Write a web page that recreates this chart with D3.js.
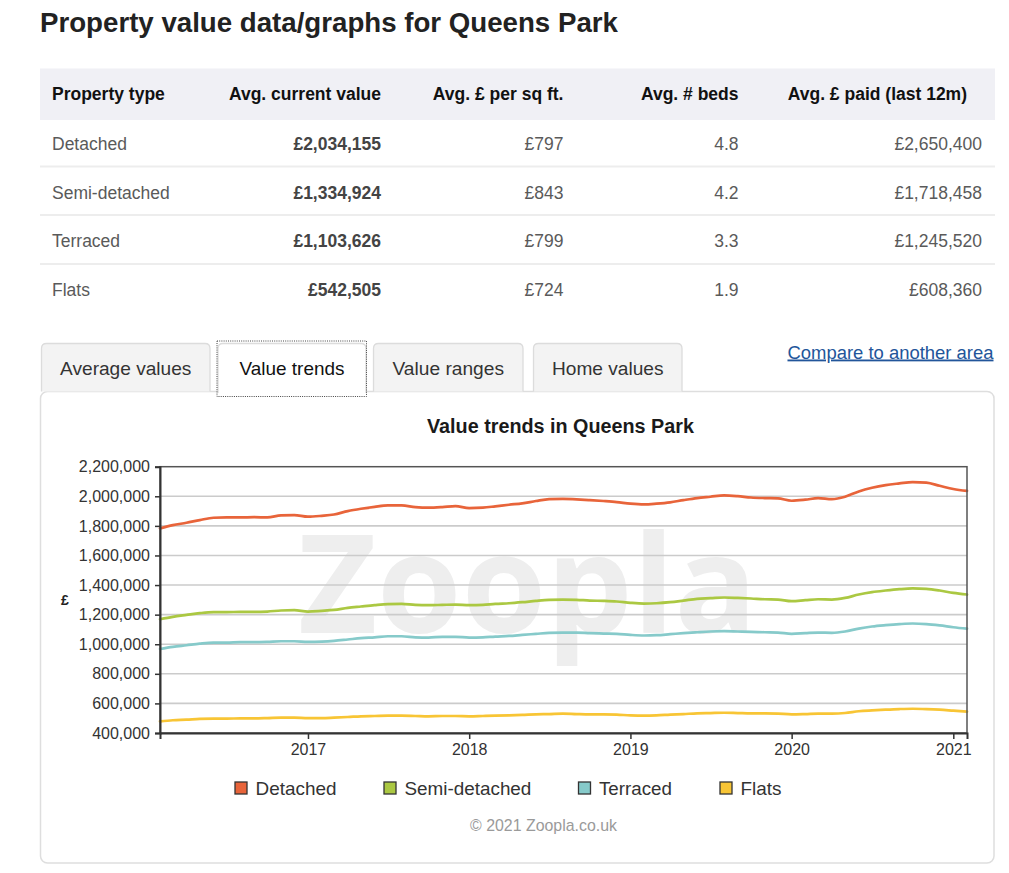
<!DOCTYPE html>
<html><head><meta charset="utf-8">
<script src="https://cdn.jsdelivr.net/npm/d3@7"></script>
<style>
html,body{margin:0;padding:0;background:#fff;}
svg{display:block;font-family:"Liberation Sans",Arial,Helvetica,sans-serif;}
</style></head><body>
<svg id="c" width="1009" height="873"></svg>
<script>
// ---------- DATA ----------
const pageTitle = "Property value data/graphs for Queens Park";
const chartTitle = "Value trends in Queens Park";
const tableHeaders = ["Property type","Avg. current value","Avg. £ per sq ft.","Avg. # beds","Avg. £ paid (last 12m)"];
const propertyTypes = ["Detached","Semi-detached","Terraced","Flats"];
const avgCurrentValue = ["£2,034,155","£1,334,924","£1,103,626","£542,505"];
const avgPerSqFt = ["£797","£843","£799","£724"];
const avgBeds = ["4.8","4.2","3.3","1.9"];
const avgPaid12m = ["£2,650,400","£1,718,458","£1,245,520","£608,360"];
const tabLabels = ["Average values","Value trends","Value ranges","Home values"];
const linkLabel = "Compare to another area";
const seriesNames = ["Detached","Semi-detached","Terraced","Flats"];
const seriesColors = ["#e8643a","#abc842","#86caca","#f8c535"];
// monthly values, Feb 2016 .. Feb 2021 (thousands of £)
const detached = [1783,1805,1821,1839,1855,1857,1857,1859,1857,1871,1873,1862,1868,1877,1900,1916,1929,1938,1938,1927,1923,1927,1934,1920,1923,1932,1943,1952,1968,1981,1983,
  1979,1974,1968,1961,1950,1945,1950,1959,1974,1988,1997,2006,2001,1992,1988,1986,1970,1977,1988,1981,1997,2033,2058,2076,2087,2096,2092,2071,2049,2036];
const semiDetached = [1169,1185,1198,1210,1217,1217,1219,1219,1221,1228,1230,1221,1226,1232,1246,1255,1264,1271,1273,1266,1264,1266,1268,1264,1266,1273,1277,1284,1293,1300,1302,
  1300,1295,1293,1289,1280,1275,1277,1284,1295,1307,1311,1316,1313,1309,1304,1302,1291,1298,1304,1302,1313,1336,1352,1363,1372,1377,1374,1363,1347,1336];
const terraced = [968,982,993,1004,1011,1011,1014,1014,1016,1020,1020,1016,1018,1023,1032,1041,1047,1054,1054,1047,1045,1050,1050,1045,1047,1052,1056,1063,1070,1077,1079,
  1079,1075,1072,1070,1063,1059,1061,1068,1075,1081,1086,1088,1086,1084,1081,1079,1070,1075,1079,1077,1086,1106,1120,1129,1136,1140,1136,1127,1115,1105];
const flats = [479,486,490,495,497,497,499,499,501,504,504,501,501,504,508,513,515,517,517,515,513,515,515,513,515,517,519,522,526,528,531,
  528,526,526,524,519,517,519,524,528,533,535,537,535,533,533,531,526,528,531,531,535,547,553,558,562,564,562,558,551,544];
const months = d3.timeMonth.range(new Date(2016,1,1), new Date(2021,2,1));
const yTicks = [400000,600000,800000,1000000,1200000,1400000,1600000,1800000,2000000,2200000];
const xTicks = [2017,2018,2019,2020,2021].map(y => new Date(y,0,1));
const yAxisLabel = "£";
const watermark = "Zoopla";
const copyright = "© 2021 Zoopla.co.uk";

// ---------- HELPERS ----------
const svg = d3.select("#c");
function fit(sel, w){
  sel.each(function(){
    const fs = parseFloat(d3.select(this).attr("font-size"));
    const len = this.getComputedTextLength();
    if(len>0) d3.select(this).attr("font-size", (fs*w/len).toFixed(2));
  });
  return sel;
}

// ---------- PAGE TITLE ----------
svg.append("text").attr("x",40).attr("y",32).attr("font-size",24).attr("font-weight","bold")
  .attr("fill","#222").text(pageTitle).call(fit,578);

// ---------- TABLE ----------
const tbl = svg.append("g");
tbl.append("rect").attr("x",40).attr("y",68.5).attr("width",955).attr("height",51.5).attr("fill","#f0f0f5");
const colRight = [null,381,563.5,738.5,967];
const colRightBody = [null,381,563.5,738.5,982];
tableHeaders.forEach((h,i)=>{
  const t = tbl.append("text").attr("y",99.5).attr("font-size",17.5).attr("font-weight","bold").attr("fill","#111").text(h);
  if(i===0) t.attr("x",52); else t.attr("x",colRight[i]).attr("text-anchor","end");
});
const rowBase = [150,198.5,247,296];
propertyTypes.forEach((p,r)=>{
  const y = rowBase[r];
  if(r>0) tbl.append("rect").attr("x",40).attr("y",y-33).attr("width",955).attr("height",2).attr("fill","#ededed");
  tbl.append("text").attr("x",52).attr("y",y).attr("font-size",17.5).attr("fill","#5a5a5a").text(p);
  tbl.append("text").attr("x",colRightBody[1]).attr("y",y).attr("text-anchor","end").attr("font-size",17.5).attr("font-weight","bold").attr("fill","#444").text(avgCurrentValue[r]);
  tbl.append("text").attr("x",colRightBody[2]).attr("y",y).attr("text-anchor","end").attr("font-size",17.5).attr("fill","#5a5a5a").text(avgPerSqFt[r]);
  tbl.append("text").attr("x",colRightBody[3]).attr("y",y).attr("text-anchor","end").attr("font-size",17.5).attr("fill","#5a5a5a").text(avgBeds[r]);
  tbl.append("text").attr("x",colRightBody[4]).attr("y",y).attr("text-anchor","end").attr("font-size",17.5).attr("fill","#5a5a5a").text(avgPaid12m[r]);
});

// ---------- PANEL + TABS ----------
svg.append("rect").attr("x",40.5).attr("y",391.5).attr("width",953.5).attr("height",471.5).attr("rx",7)
  .attr("fill","#fff").attr("stroke","#dedede").attr("stroke-width",1.5);
const tabBoxes = [[41.5,210],[218,366],[373.5,523],[533.5,682]];
const tabTextW = [131.5,105,111.5,111.5];
tabLabels.forEach((lab,i)=>{
  const [x0,x1] = tabBoxes[i];
  const top = 343.5, bot = i===1 ? 393 : 391.5, r = 5;
  const path = `M${x0},${bot} L${x0},${top+r} Q${x0},${top} ${x0+r},${top} L${x1-r},${top} Q${x1},${top} ${x1},${top+r} L${x1},${bot}`;
  svg.append("path").attr("d",path+" Z").attr("fill", i===1?"#fff":"#f3f3f3").attr("stroke","none");
  svg.append("path").attr("d",path).attr("fill","none").attr("stroke","#dcdcdc").attr("stroke-width",1.3);
  svg.append("text").attr("x",(x0+x1)/2).attr("y",375).attr("text-anchor","middle").attr("font-size",18)
    .attr("fill", i===1?"#111":"#333").text(lab).call(fit,tabTextW[i]);
});
svg.append("rect").attr("x",217).attr("y",341).attr("width",149.5).attr("height",55.5)
  .attr("fill","none").attr("stroke","#444").attr("stroke-width",1).attr("stroke-dasharray","1,1.2");
svg.append("text").attr("x",993.5).attr("y",358.5).attr("text-anchor","end").attr("font-size",18)
  .attr("fill","#22559a").attr("text-decoration","underline").text(linkLabel).call(fit,206);

// ---------- CHART ----------
const x = d3.scaleTime().domain([new Date(2016,1,1), new Date(2021,1,1)]).range([160,967]);
const y = d3.scaleLinear().domain([400000,2200000]).range([733,466.7]);
const ch = svg.append("g");

ch.append("text").attr("x",560.5).attr("y",433).attr("text-anchor","middle").attr("font-size",18)
  .attr("font-weight","bold").attr("fill","#1a1a1a").text(chartTitle).call(fit,267);

// watermark
ch.append("text").attr("x",298).attr("y",633).attr("font-size",130)
  .attr("font-family","'Open Sans','Noto Sans',sans-serif").attr("font-weight",700)
  .attr("fill","#eeeeee").text(watermark).call(fit,459);

// grid
ch.append("g").selectAll("line").data(yTicks.slice(1,-1)).join("line")
  .attr("x1",160).attr("x2",967).attr("y1",d=>y(d)).attr("y2",d=>y(d))
  .attr("stroke","#cbcbcb").attr("stroke-width",1.6);

// series
const seriesData = [detached, semiDetached, terraced, flats];
const line = d3.line().x((d,i)=>x(months[i])).y(d=>y(d*1000)).curve(d3.curveMonotoneX);
ch.append("g").selectAll("path").data(seriesData).join("path")
  .attr("d",d=>line(d)).attr("fill","none").attr("stroke",(d,i)=>seriesColors[i])
  .attr("stroke-width",2.7).attr("stroke-linejoin","round").attr("stroke-linecap","round");

// frame
ch.append("rect").attr("x",160).attr("y",466.7).attr("width",807).attr("height",266.3)
  .attr("fill","none").attr("stroke","#555").attr("stroke-width",1.5);

// axes
const yAxis = ch.append("g").attr("transform","translate(160,0)")
  .call(d3.axisLeft(y).tickValues(yTicks).tickFormat(d3.format(",")).tickSizeOuter(0).tickSize(5).tickPadding(5));
const xAxis = ch.append("g").attr("transform","translate(0,733)")
  .call(d3.axisBottom(x).tickValues(xTicks).tickFormat(d3.timeFormat("%Y")).tickSizeOuter(0).tickSize(6).tickPadding(5));
[yAxis,xAxis].forEach(a=>{
  a.select(".domain").attr("stroke","#333").attr("stroke-width",2);
  a.selectAll(".tick line").attr("stroke","#333").attr("stroke-width",1.5);
  a.selectAll(".tick text").attr("font-size",16).attr("fill","#333")
    .attr("font-family","'Liberation Sans',Arial,sans-serif");
});
ch.append("text").attr("x",65).attr("y",605).attr("text-anchor","middle").attr("font-size",14)
  .attr("font-weight","bold").attr("fill","#222").text(yAxisLabel);

// legend
const legX = [255.5,404.5,599,740.5];
const legW = [81,127,73,41];
const leg = ch.append("g").selectAll("g").data(seriesNames).join("g");
leg.append("rect").attr("x",(d,i)=>legX[i]-20.5).attr("y",782).attr("width",12).attr("height",12)
  .attr("fill",(d,i)=>seriesColors[i]).attr("stroke","#333").attr("stroke-width",1.3);
leg.append("text").attr("x",(d,i)=>legX[i]).attr("y",794.5).attr("font-size",18).attr("fill","#333")
  .text(d=>d).each(function(d,i){ fit(d3.select(this), legW[i]); });

ch.append("text").attr("x",543.5).attr("y",831).attr("text-anchor","middle").attr("font-size",14)
  .attr("fill","#9a9a9a").text(copyright).call(fit,147);
</script>
</body></html>
